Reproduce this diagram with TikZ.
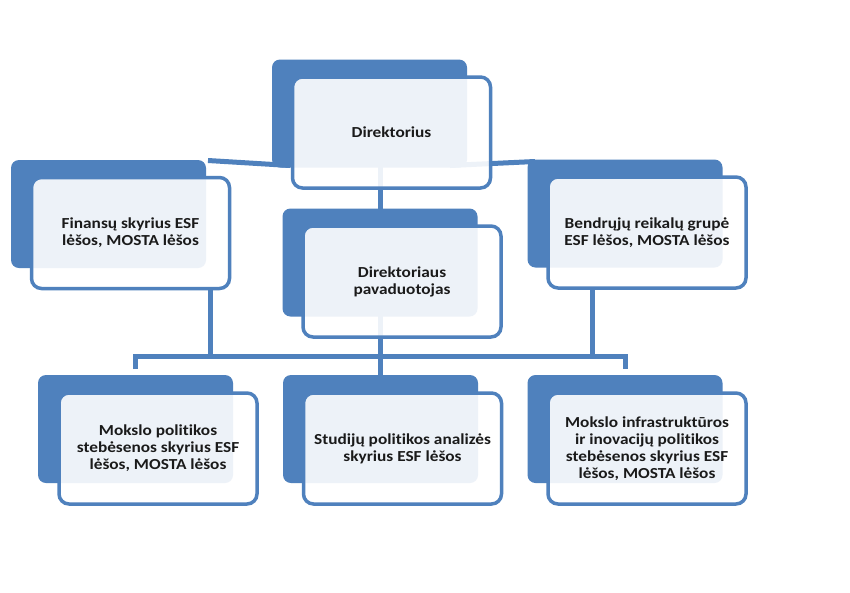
\documentclass[tikz,border=0pt]{standalone}
\usepackage{fontspec}
\setmainfont{Carlito}[FakeStretch=1.13, Ligatures={NoCommon}]
\definecolor{blueA}{HTML}{4F81BD}
\definecolor{txt}{HTML}{1A1A1A}
\begin{document}
\begin{tikzpicture}[x=1pt,y=-1pt,
  conn/.style={draw=blueA, line width=5pt},
  backbox/.style={fill=blueA, rounded corners=8pt, minimum width=195pt, minimum height=108pt, inner sep=0pt},
  frontbox/.style={draw=blueA, line width=3.5pt, fill=white, fill opacity=0.9, text opacity=1,
     rounded corners=10pt, minimum width=198pt, minimum height=111pt, inner sep=0pt,
     align=center, text=txt, font=\fontsize{15.3}{17}\selectfont\bfseries}]
\useasboundingbox (0,0) rectangle (850,592);
\fill[white] (0,0) rectangle (850,592);

% connector coordinates
\coordinate (sideL1) at (208,160.5);
\coordinate (sideL2) at (290,165.5);
\coordinate (sideR1) at (450,165.5);
\coordinate (sideR2) at (535,161.5);
\coordinate (dirDown) at (380,165);
\coordinate (viceTop) at (380,215);
\coordinate (viceDown) at (380,310);
\coordinate (busM) at (380,356);
\coordinate (midTop) at (380,380);
\coordinate (finDown) at (210,290);
\coordinate (finBus) at (210,356);
\coordinate (benDown) at (592,290);
\coordinate (benBus) at (592,356);
\coordinate (legL) at (135,369);
\coordinate (legR) at (625,369);

% connectors (behind boxes)
\draw[conn] (sideL1) -- (sideL2);
\draw[conn] (sideR1) -- (sideR2);
\draw[conn] (dirDown) -- (viceTop);
\draw[conn] (viceDown) -- (midTop);
\draw[conn] (finDown) -- (finBus);
\draw[conn] (benDown) -- (benBus);
\draw[conn] (legL) |- (busM) -| (legR);

% back boxes
\node[backbox] (dirB) at (369.5,113.5) {};
\node[backbox] (finB) at (108.5,214) {};
\node[backbox] (benB) at (625,213.5) {};
\node[backbox] (viceB) at (380,262.5) {};
\node[backbox] (blB) at (135.5,429) {};
\node[backbox] (bcB) at (380.5,429) {};
\node[backbox] (brB) at (625,429) {};

% front boxes
\node[frontbox] (dirF) at (391.5,132.5) {Direktorius};
\node[frontbox] (finF) at (130.5,233) {Finansų skyrius ESF\\lėšos, MOSTA lėšos};
\node[frontbox] (benF) at (647,232.5) {Bendrųjų reikalų grupė\\ESF lėšos, MOSTA lėšos};
\node[frontbox] (viceF) at (402,281.5) {Direktoriaus\\pavaduotojas};
\node[frontbox] (blF) at (158,448.5) {Mokslo politikos\\stebėsenos skyrius ESF\\lėšos, MOSTA lėšos};
\node[frontbox] (bcF) at (402.5,448.5) {Studijų politikos analizės\\skyrius ESF lėšos};
\node[frontbox] (brF) at (647,448.5) {Mokslo infrastruktūros\\ir inovacijų politikos\\stebėsenos skyrius ESF\\lėšos, MOSTA lėšos};
\end{tikzpicture}
\end{document}
